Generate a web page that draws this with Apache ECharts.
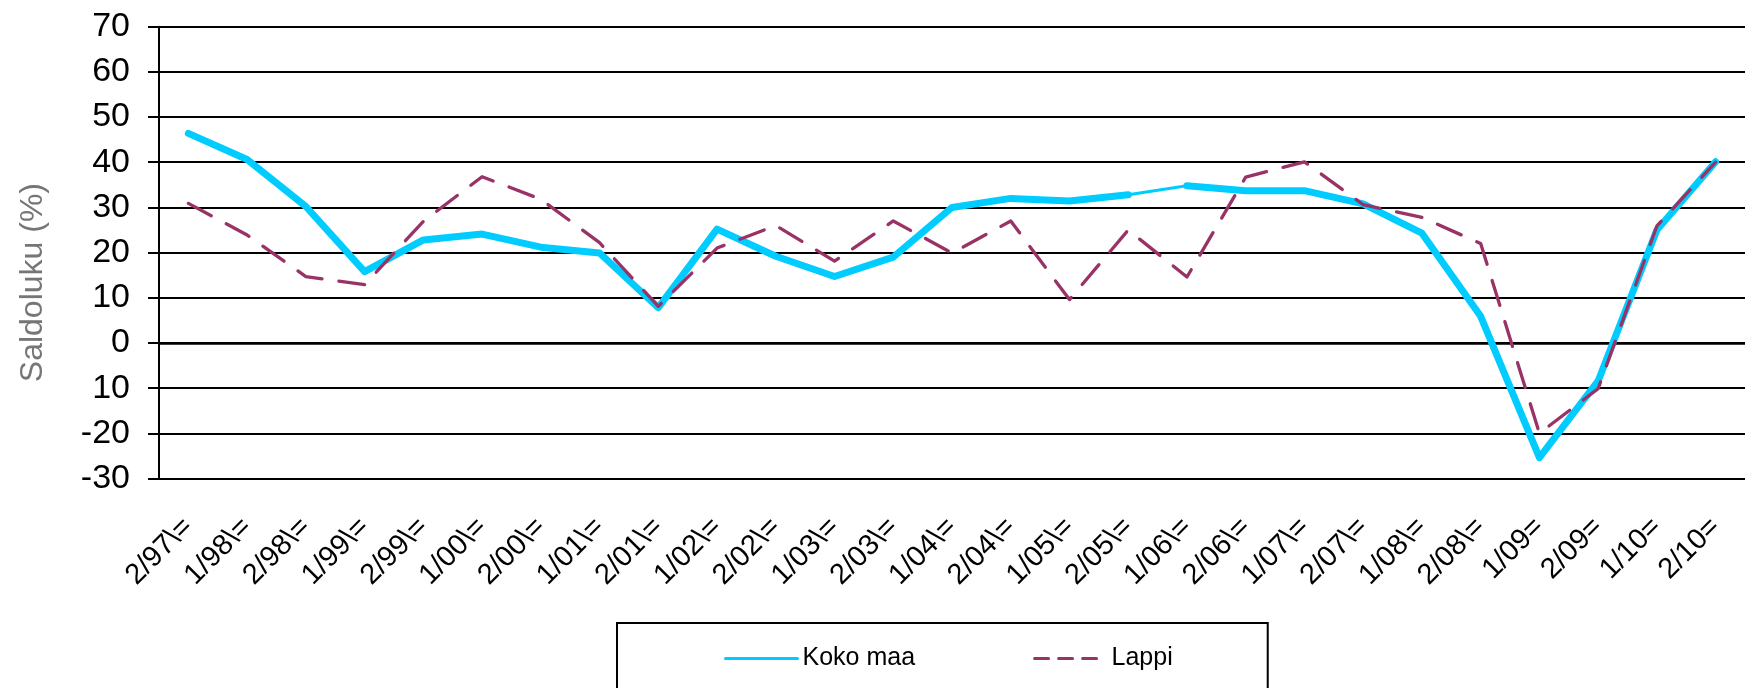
<!DOCTYPE html>
<html><head><meta charset="utf-8">
<script src="https://cdn.jsdelivr.net/npm/echarts@6/dist/echarts.min.js"></script>
<style>html,body{margin:0;padding:0;background:#fff}#c{width:1745px;height:688px}</style>
</head><body><div id="c"></div>
<script>
const categories = ['2/97\\=','1/98\\=','2/98\\=','1/99\\=','2/99\\=','1/00\\=','2/00\\=','1/01\\=','2/01\\=','1/02\\=','2/02\\=','1/03\\=','2/03\\=','1/04\\=','2/04\\=','1/05\\=','2/05\\=','1/06\\=','2/06\\=','1/07\\=','2/07\\=','1/08\\=','2/08\\=','1/09=','2/09=','1/10=','2/10='];
const kokoMaa = [46.4, 40.6, 30.2, 15.8, 22.8, 24.1, 21.2, 19.9, 7.8, 25.2, 19.2, 14.7, 19.0, 30.0, 32.0, 31.4, 32.8, 34.8, 33.7, 33.7, 30.8, 24.3, 5.9, -25.4, -8.4, 25.0, 40.1];
const lappi = [30.9, 23.9, 14.7, 12.9, 26.9, 36.8, 31.8, 22.2, 8.1, 21.0, 26.0, 18.1, 27.0, 19.9, 27.0, 9.6, 25.0, 14.6, 36.7, 40.1, 30.6, 27.8, 22.0, -20.0, -10.1, 25.9, 40.0];
const yTickLabels = ['-30','-20','10','0','10','20','30','40','50','60','70'];
const seriesNames = ['Koko maa', 'Lappi'];
const yAxisName = 'Saldoluku (%)';
// segment of Koko maa drawn thin in the original (between 2/05 and 1/06)
const thinFrom = 16, thinTo = 17;

const YMIN = -30, YMAX = 70, YSTEP = 10;
const FONT = "'Liberation Sans', Arial, sans-serif";
const BLUE = '#00CCFF', PURPLE = '#993366';

const mask = (arr, a, b) => arr.map((v, i) => (i >= a && i <= b ? v : null));

const chart = echarts.init(document.getElementById('c'), null, {renderer: 'canvas'});
chart.setOption({
  animation: false,
  backgroundColor: '#fff',
  textStyle: {fontFamily: FONT},
  grid: {left: 159, right: -22.5, top: 26.7, bottom: 209.5, containLabel: false},
  legend: {
    left: 617, top: 623,
    padding: [23, 95, 40, 107],
    borderColor: '#000', borderWidth: 2,
    itemWidth: 72, itemHeight: 14, itemGap: 118,
    itemStyle: {opacity: 0},
    textStyle: {fontSize: 25, color: '#000', fontFamily: FONT},
    data: [
      {name: seriesNames[0], lineStyle: {width: 3, color: BLUE}, itemStyle: {opacity: 0}},
      {name: seriesNames[1], lineStyle: {width: 3, color: PURPLE, type: [14, 10]}, itemStyle: {opacity: 0}}
    ]
  },
  xAxis: {
    type: 'category',
    data: categories,
    boundaryGap: true,
    axisLine: {show: true, lineStyle: {color: '#000', width: 2.5}},
    axisTick: {show: false},
    axisLabel: {interval: 0, rotate: 45, margin: 44, fontSize: 29, color: '#000', fontFamily: FONT}
  },
  yAxis: {
    type: 'value',
    min: YMIN, max: YMAX, interval: YSTEP,
    name: yAxisName,
    nameLocation: 'middle', nameRotate: 90, nameGap: 110,
    nameTextStyle: {fontSize: 32, color: '#767676', fontFamily: FONT, padding: [0, 60, 0, 0]},
    axisLine: {show: true, lineStyle: {color: '#000', width: 2}},
    axisTick: {show: true, length: 11, lineStyle: {color: '#000', width: 2}},
    axisLabel: {
      margin: 29, fontSize: 34, color: '#000', fontFamily: FONT,
      formatter: v => yTickLabels[Math.round((v - YMIN) / YSTEP)]
    },
    splitLine: {show: true, lineStyle: {color: '#000', width: 2}}
  },
  series: [
    {name: seriesNames[0], type: 'line', data: mask(kokoMaa, 0, thinFrom), symbol: 'none',
     lineStyle: {color: BLUE, width: 7, cap: 'round', join: 'round'}, itemStyle: {color: BLUE}, z: 2},
    {name: 'Koko maa b', type: 'line', data: mask(kokoMaa, thinTo, kokoMaa.length - 1), symbol: 'none',
     lineStyle: {color: BLUE, width: 7, cap: 'round', join: 'round'}, itemStyle: {color: BLUE}, z: 2},
    {name: 'Koko maa c', type: 'line', data: mask(kokoMaa, thinFrom, thinTo), symbol: 'none',
     lineStyle: {color: BLUE, width: 3, cap: 'round', join: 'round'}, itemStyle: {color: BLUE}, z: 2},
    {name: seriesNames[1], type: 'line', data: lappi, symbol: 'none',
     lineStyle: {color: PURPLE, width: 3.3, type: [26, 17], cap: 'round', join: 'round'}, itemStyle: {color: PURPLE}, z: 3}
  ]
});
</script>
</body></html>
